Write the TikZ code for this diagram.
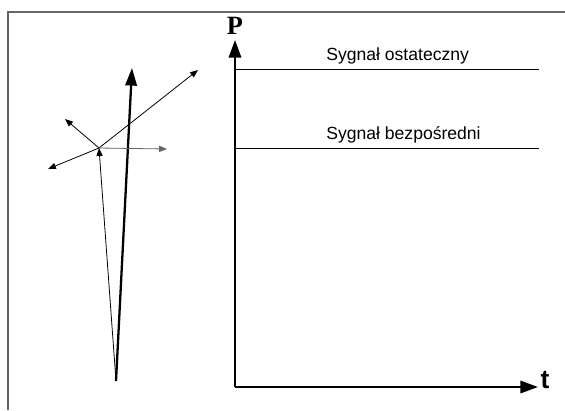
\documentclass[tikz,border=0pt]{standalone}
\usepackage{fontspec}
\setmainfont{Liberation Serif}
\newfontfamily\labelfont{Liberation Sans}
\usetikzlibrary{arrows.meta}

\begin{document}
\begin{tikzpicture}[
    x=0.02cm, y=-0.02cm,
    frame/.style={draw=black!60, line width=0.7pt},
    axis/.style={line width=1.3pt, -{Triangle[length=10pt, width=7pt]}},
    mainray/.style={line width=1.3pt, -{Triangle[length=10pt, width=6.5pt]}},
    ray/.style={line width=0.45pt, -{Triangle[length=4.5pt, width=3.5pt]}},
    level/.style={line width=0.45pt},
    sig/.style={font=\labelfont\fontsize{10}{12}\selectfont, anchor=base west, inner sep=0pt}
]
\useasboundingbox (0,0) rectangle (565,410);

% Frame
\draw[frame] (8,410) -- (8,12) -- (565,12);

% Rays
\coordinate (base) at (116,381);
\coordinate (hit) at (99,148);
\coordinate (direct) at (132,68);
\coordinate (upleft) at (65,119);
\coordinate (upright) at (198,70);
\coordinate (right) at (167,149);
\coordinate (downleft) at (48,169);

\draw[mainray] (base) -- (direct);
\draw[ray] (base) -- (hit);
\draw[ray] (hit) -- (upleft);
\draw[ray] (hit) -- (upright);
\draw[ray, draw=black!60, fill=black!60] (hit) -- (right);
\draw[ray] (hit) -- (downleft);

% Axes
\coordinate (origin) at (235,387);
\coordinate (ptop) at (235,40);
\coordinate (tend) at (538,387);
\draw[axis] (origin) -- (ptop);
\draw[axis] (origin) -- (tend);
\node[font=\bfseries\fontsize{15}{17}\selectfont] (plabel) at (235,26) {P};
\node[font=\labelfont\bfseries\fontsize{15}{17}\selectfont] (tlabel) at (545,380) {t};

% Levels
\coordinate (final0) at (235,69);
\coordinate (final1) at (539,69);
\coordinate (direct0) at (235,148);
\coordinate (direct1) at (539,148);
\draw[level] (final0) -- (final1);
\draw[level] (direct0) -- (direct1);
\node[sig] (finaltext) at (326,60) {Sygnał ostateczny};
\node[sig] (directtext) at (326,139) {Sygnał bezpośredni};

\end{tikzpicture}
\end{document}
